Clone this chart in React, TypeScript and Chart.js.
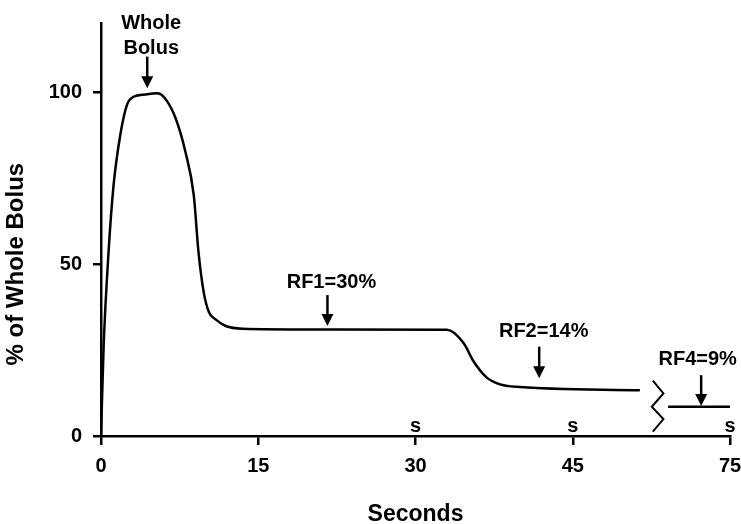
import React, { useEffect, useRef } from "react";
import { Chart, registerables } from "chart.js";

Chart.register(...registerables);

// ---- data ----
const xTickValues = [0, 15, 30, 45, 60];
const xTickLabels = ["0", "15", "30", "45", "75"];
const yTickValues = [0, 50, 100];
const unitMarkValues = [30, 45, 60];
const unitMarkText = "s";

const curveSeconds = [0, 0.25, 0.72, 1.2, 1.84, 2.47, 3.1, 4.23, 5.34, 5.98, 7.1, 8.05, 8.85, 9.3, 9.8, 10.3, 10.9, 11.9, 13.5, 20, 33, 34.6, 35.5, 36.8, 38, 39.6, 51.4];
const curvePercent = [0, 26, 53.5, 73, 87.6, 96.3, 98.7, 99.4, 99.7, 98.7, 92.6, 82.7, 70, 53.5, 41.8, 36, 34, 32, 31.2, 31, 30.9, 27, 21.9, 17, 15.1, 14.3, 13.3];

const breakSeconds = [52.64, 53.65, 52.54, 53.65, 52.64];
const breakPercent = [16.1, 12.4, 8.5, 4.9, 1.25];

const tailSeconds = [54.1, 60];
const tailPercent = [8.5, 8.5];

const annotationLabels = [["Whole", "Bolus"], ["RF1=30%"], ["RF2=14%"], ["RF4=9%"]];
const arrowSeconds = [4.41, 21.6, 41.8, 57.25];
const arrowTopPercent = [110.4, 41, 26, 17.7];
const arrowTipPercent = [101.2, 32, 16.8, 8.7];

const xTitle = "Seconds";
const yTitle = "% of Whole Bolus";

// ---- style ----
const FAMILY = "'Liberation Sans', Arial, Helvetica, sans-serif";
const labelDx = [4, 4, 4.5, -3.5];
const labelGap = [2.5, 7.5, 10, 10];

const toPoints = (xs: number[], ys: number[]) => xs.map((x, i) => ({ x, y: ys[i] }));

const annotatePlugin = {
  id: "annotate",
  afterDraw(chart: any) {
    const { ctx } = chart;
    const x = chart.scales.x;
    const y = chart.scales.y;
    ctx.save();
    ctx.fillStyle = "#000";
    ctx.strokeStyle = "#000";
    ctx.lineCap = "butt";
    arrowSeconds.forEach((s, i) => {
      const px = x.getPixelForValue(s);
      const top = y.getPixelForValue(arrowTopPercent[i]);
      const tip = y.getPixelForValue(arrowTipPercent[i]);
      ctx.lineWidth = 2.5;
      ctx.beginPath();
      ctx.moveTo(px, top);
      ctx.lineTo(px, tip - 9);
      ctx.stroke();
      ctx.beginPath();
      ctx.moveTo(px - 6, tip - 12);
      ctx.lineTo(px + 6, tip - 12);
      ctx.lineTo(px, tip);
      ctx.closePath();
      ctx.fill();
      ctx.font = `bold 20px ${FAMILY}`;
      ctx.textAlign = "center";
      ctx.textBaseline = "alphabetic";
      const lines = annotationLabels[i];
      lines.forEach((t, j) => {
        ctx.fillText(t, px + labelDx[i], top - labelGap[i] - (lines.length - 1 - j) * 25);
      });
    });
    ctx.font = `bold 20px ${FAMILY}`;
    ctx.textAlign = "center";
    ctx.textBaseline = "alphabetic";
    unitMarkValues.forEach((v) => {
      ctx.fillText(unitMarkText, x.getPixelForValue(v), y.getPixelForValue(0) - 4);
    });
    // y axis title, centred on the 0..100 range
    const cy = (y.getPixelForValue(0) + y.getPixelForValue(100)) / 2;
    ctx.translate(16.7, cy);
    ctx.rotate(-Math.PI / 2);
    ctx.font = `bold 24px ${FAMILY}`;
    ctx.textBaseline = "middle";
    ctx.fillText(yTitle, 0, 0);
    ctx.restore();
  },
};

export default function App() {
  const ref = useRef<HTMLCanvasElement | null>(null);
  useEffect(() => {
    if (!ref.current) return;
    const tickFont = { family: FAMILY, size: 20, weight: "bold" as const };
    const chart = new Chart(ref.current, {
      type: "line",
      data: {
        datasets: [
          {
            data: toPoints(curveSeconds, curvePercent),
            borderColor: "#000",
            borderWidth: 2.5,
            pointRadius: 0,
            cubicInterpolationMode: "monotone",
            fill: false,
          },
          {
            data: toPoints(breakSeconds, breakPercent),
            borderColor: "#000",
            borderWidth: 2,
            pointRadius: 0,
            tension: 0,
            fill: false,
          },
          {
            data: toPoints(tailSeconds, tailPercent),
            borderColor: "#000",
            borderWidth: 2.5,
            pointRadius: 0,
            tension: 0,
            fill: false,
          },
        ],
      },
      options: {
        responsive: false,
        animation: false,
        devicePixelRatio: 1,
        layout: { padding: { top: 23.6, right: 11, left: 0, bottom: 0 } },
        plugins: { legend: { display: false }, tooltip: { enabled: false } },
        scales: {
          x: {
            type: "linear",
            min: 0,
            max: 60,
            afterBuildTicks: (s: any) => {
              s.ticks = xTickValues.map((v) => ({ value: v }));
            },
            afterFit: (s: any) => {
              s.height = 88;
              s.paddingLeft = 0;
              s.paddingRight = 0;
            },
            ticks: {
              callback: (_v: any, i: number) => xTickLabels[i],
              font: tickFont,
              color: "#000",
              padding: 9,
              maxRotation: 0,
              autoSkip: false,
            },
            grid: { drawOnChartArea: false, drawTicks: true, tickLength: 9, color: "#000", lineWidth: 2.5 },
            border: { display: true, color: "#000", width: 2.5 },
            title: {
              display: true,
              text: xTitle,
              color: "#000",
              font: { family: FAMILY, size: 23, weight: "bold", lineHeight: 1 },
              padding: { top: 0, bottom: -2.2 },
            },
          },
          y: {
            type: "linear",
            min: 0,
            max: 120,
            afterBuildTicks: (s: any) => {
              s.ticks = yTickValues.map((v) => ({ value: v }));
            },
            afterFit: (s: any) => {
              s.width = 101;
              s.paddingTop = 0;
              s.paddingBottom = 0;
            },
            ticks: {
              callback: (v: any) => String(v),
              font: tickFont,
              color: "#000",
              padding: 11,
            },
            grid: { drawOnChartArea: false, drawTicks: true, tickLength: 8, color: "#000", lineWidth: 2.5 },
            border: { display: true, color: "#000", width: 2.5 },
          },
        },
      },
      plugins: [annotatePlugin],
    } as any);
    return () => chart.destroy();
  }, []);
  return (
    <div style={{ position: "absolute", left: 0, top: 0, width: 741, height: 524, background: "#fff" }}>
      <canvas ref={ref} width={741} height={524} style={{ display: "block" }} />
    </div>
  );
}
